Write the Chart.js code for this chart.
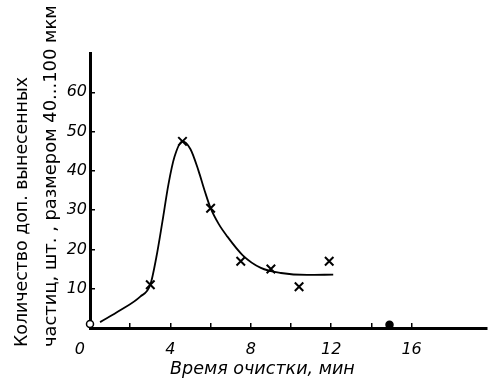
<!DOCTYPE html>
<html>
<head>
<meta charset="utf-8">
<script src="https://cdn.jsdelivr.net/npm/chart.js@4.4.1/dist/chart.umd.min.js"></script>
<style>
  html, body { margin: 0; padding: 0; background: #fff; }
  #wrap { width: 504px; height: 385px; }
</style>
</head>
<body>
<div id="wrap"><canvas id="chart"></canvas></div>
<script>
const xTitle = "Время очистки, мин";
const yTitle = ["Количество доп. вынесенных", "частиц, шт. , размером 40...100 мкм"];
const xLabels = [0, 4, 8, 12, 16];
const xTickMarks = [2, 4, 6, 8, 10, 12, 14, 16];
const yLabels = [10, 20, 30, 40, 50, 60];

// измеренные точки (крестики)
const crossX = [3.0, 4.6, 6.0, 7.5, 9.0, 10.4, 11.9];
const crossY = [11, 47.5, 30.5, 17, 15, 10.5, 17];

// кружки на оси
const circleX = [0, 14.9];
const circleY = [1, 0.8];

// сглаженная кривая
const curveX = [0.5, 1.5, 2.5, 3.0, 3.3, 3.6, 3.9, 4.2, 4.6, 5.0, 5.4, 5.7, 6.0, 6.4, 6.8, 7.6, 8.5, 9.5, 10.8, 12.1];
const curveY = [1.5, 4.5, 8, 11, 18, 27, 36.5, 43.5, 47.5, 45.5, 40, 35, 30.5, 26.5, 23.5, 18.5, 15.3, 14, 13.5, 13.6];

const toPoints = (xs, ys) => xs.map((x, i) => ({ x, y: ys[i] }));

const FONT = "'DejaVu Sans', sans-serif";

function fitFont(c, text, width, style, base) {
  c.font = `${style} ${base}px ${FONT}`;
  const w = c.measureText(text).width;
  const size = base * width / w;
  c.font = `${style} ${size.toFixed(2)}px ${FONT}`;
}

const titles = {
  id: "titles",
  afterDraw(chart) {
    const c = chart.ctx;
    c.save();
    c.fillStyle = "#000";
    c.textAlign = "left";
    c.textBaseline = "alphabetic";
    fitFont(c, xTitle, 185, "oblique", 16);
    c.fillText(xTitle, 170, 374);
    c.rotate(-Math.PI / 2);
    fitFont(c, yTitle[0], 270, "normal", 17);
    c.fillText(yTitle[0], -347, 27);
    fitFont(c, yTitle[1], 342, "normal", 17);
    c.fillText(yTitle[1], -347, 56);
    c.restore();
  },
};

const tickFont = { family: FONT, style: "italic", size: 16 };

const config = {
  type: "scatter",
  data: {
    datasets: [
      {
        type: "line",
        data: toPoints(curveX, curveY),
        borderColor: "#000",
        borderWidth: 1.8,
        pointRadius: 0,
        fill: false,
        cubicInterpolationMode: "monotone",
        clip: false,
      },
      {
        data: toPoints(crossX, crossY),
        pointStyle: "crossRot",
        pointRadius: 6,
        borderColor: "#000",
        borderWidth: 2,
        clip: false,
      },
      {
        data: toPoints(circleX, circleY),
        pointStyle: "circle",
        pointRadius: 3.5,
        borderColor: "#000",
        borderWidth: 1.5,
        backgroundColor: ["#fff", "#000"],
        clip: false,
      },
    ],
  },
  options: {
    responsive: true,
    maintainAspectRatio: false,
    animation: false,
    layout: { padding: { top: 53, right: 17, left: 0, bottom: 0 } },
    plugins: {
      legend: { display: false },
      tooltip: { enabled: false },
    },
    scales: {
      x: {
        type: "linear",
        min: 0,
        max: 19.75,
        border: { color: "#000", width: 3 },
        grid: {
          drawOnChartArea: false,
          tickLength: -5,
          lineWidth: 1.5,
          color: (ctx) => (ctx.tick && xTickMarks.includes(ctx.tick.value) ? "#000" : "rgba(0,0,0,0)"),
        },
        ticks: {
          stepSize: 2,
          includeBounds: false,
          autoSkip: false,
          maxRotation: 0,
          padding: 17,
          color: "#000",
          font: tickFont,
          callback: (v) => (xLabels.includes(v) ? (v === 0 ? "0    " : String(v)) : ""),
        },
        afterFit: (s) => { s.height = 57; },
      },
      y: {
        type: "linear",
        min: 0,
        max: 70,
        border: { color: "#000", width: 3 },
        grid: {
          drawOnChartArea: false,
          tickLength: -5,
          lineWidth: 1.5,
          color: (ctx) => (ctx.tick && yLabels.includes(ctx.tick.value) ? "#000" : "rgba(0,0,0,0)"),
        },
        ticks: {
          stepSize: 10,
          includeBounds: false,
          padding: 8,
          color: "#000",
          font: tickFont,
          callback: (v) => (yLabels.includes(v) ? String(v) : ""),
        },
        afterFit: (s) => { s.width = 90; },
      },
    },
  },
  plugins: [titles],
};

new Chart(document.getElementById("chart"), config);
</script>
</body>
</html>
